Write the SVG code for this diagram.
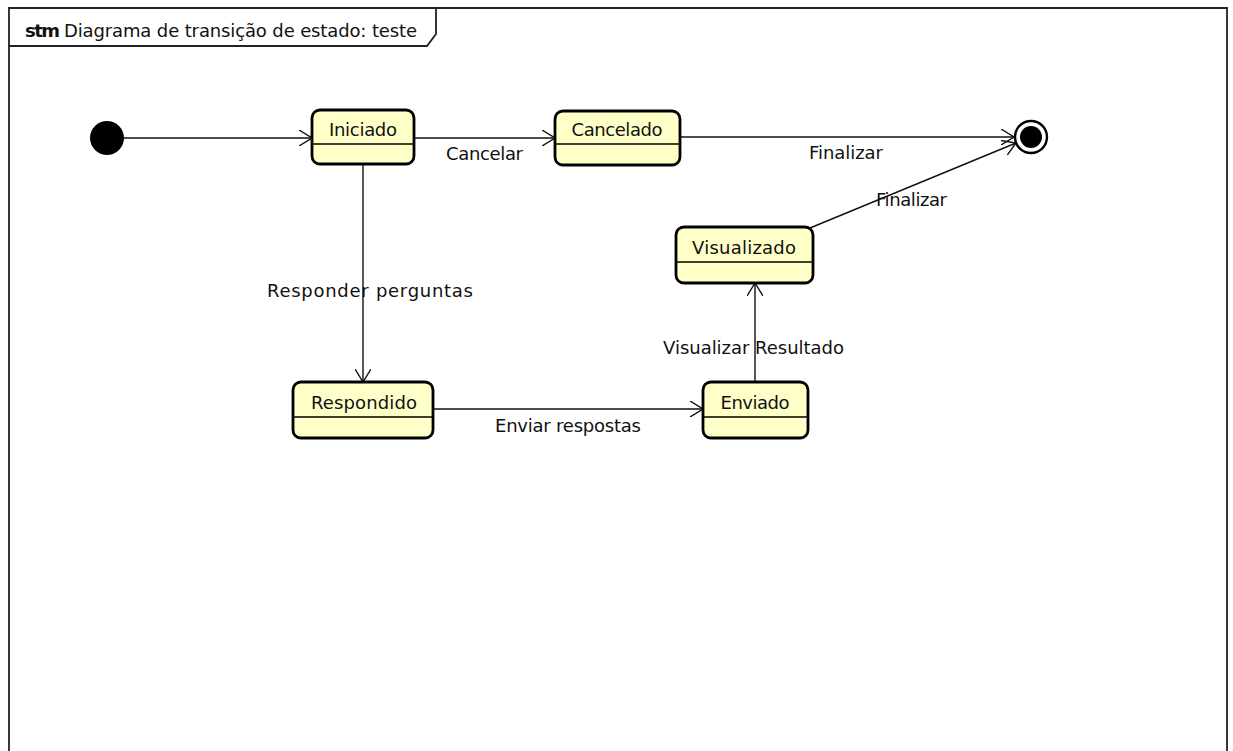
<svg xmlns="http://www.w3.org/2000/svg" width="1233" height="751" viewBox="0 0 1233 751">
<defs>
<style>
.frame{fill:none;stroke:#222;stroke-width:1.8}
.state{fill:#FFFFC8;stroke:#000;stroke-width:2.8}
.div{stroke:#000;stroke-width:1.4}
.lbl{font-family:"DejaVu Sans","Liberation Sans",sans-serif;font-size:18px;fill:#111}
.name{font-family:"DejaVu Sans","Liberation Sans",sans-serif;font-size:18px;fill:#111;text-anchor:middle}
.edge{fill:none;stroke:#111;stroke-width:1.4}
</style>
<marker id="arr" viewBox="0 0 14 16" refX="13" refY="8" markerWidth="14" markerHeight="16" markerUnits="userSpaceOnUse" orient="auto">
<path d="M0,0 L13,8 L0,16" fill="none" stroke="#111" stroke-width="1.4"/>
</marker>
</defs>
<rect x="0" y="0" width="1233" height="751" fill="#fff"/>
<g id="frame">
<path class="frame" d="M9,760 L9,8 L1227,8 L1227,760"/>
<path class="frame" d="M9,46 L427,46 L436,34 L436,8"/>
<text x="25" y="37" font-family="DejaVu Sans,'Liberation Sans',sans-serif" font-size="18" fill="#111"><tspan font-weight="bold" textLength="35">stm</tspan><tspan x="64" textLength="353">Diagrama de transição de estado: teste</tspan></text>
</g>
<g id="connectors">
<line class="edge" x1="124" y1="138" x2="312" y2="138" marker-end="url(#arr)"/>
<line class="edge" x1="414" y1="138" x2="555" y2="138" marker-end="url(#arr)"/>
<text class="lbl" x="446" y="160" textLength="77">Cancelar</text>
<line class="edge" x1="680" y1="137" x2="1014" y2="137" marker-end="url(#arr)"/>
<text class="lbl" x="809" y="159" textLength="74">Finalizar</text>
<line class="edge" x1="810" y1="228" x2="1016" y2="143" marker-end="url(#arr)"/>
<text class="lbl" x="876" y="206" textLength="71">Finalizar</text>
<line class="edge" x1="363" y1="164" x2="363" y2="382" marker-end="url(#arr)"/>
<text class="lbl" x="267" y="297" textLength="206">Responder perguntas</text>
<line class="edge" x1="433" y1="409" x2="703" y2="409" marker-end="url(#arr)"/>
<text class="lbl" x="495" y="432" textLength="146">Enviar respostas</text>
<line class="edge" x1="755" y1="382" x2="755" y2="283" marker-end="url(#arr)"/>
<text class="lbl" x="663" y="354" textLength="181">Visualizar Resultado</text>
</g>
<g id="initial">
<circle cx="107" cy="138" r="17" fill="#000"/>
</g>
<g id="final">
<circle cx="1031" cy="137" r="16" fill="#fff" stroke="#000" stroke-width="2.4"/>
<circle cx="1031" cy="137" r="11" fill="#000"/>
</g>
<g id="iniciado">
<rect class="state" x="312" y="110" width="102" height="54" rx="8"/>
<line class="div" x1="312" y1="144" x2="414" y2="144"/>
<text class="name" x="363" y="136" textLength="68">Iniciado</text>
</g>
<g id="cancelado">
<rect class="state" x="555" y="111" width="125" height="54" rx="8"/>
<line class="div" x1="555" y1="144" x2="680" y2="144"/>
<text class="name" x="617" y="136" textLength="91">Cancelado</text>
</g>
<g id="visualizado">
<rect class="state" x="676" y="227" width="137" height="56" rx="8"/>
<line class="div" x1="676" y1="262" x2="813" y2="262"/>
<text class="name" x="744" y="254" textLength="104">Visualizado</text>
</g>
<g id="respondido">
<rect class="state" x="293" y="382" width="140" height="56" rx="8"/>
<line class="div" x1="293" y1="417" x2="433" y2="417"/>
<text class="name" x="364" y="409" textLength="106">Respondido</text>
</g>
<g id="enviado">
<rect class="state" x="703" y="382" width="105" height="56" rx="8"/>
<line class="div" x1="703" y1="417" x2="808" y2="417"/>
<text class="name" x="755" y="409" textLength="69">Enviado</text>
</g>
</svg>
